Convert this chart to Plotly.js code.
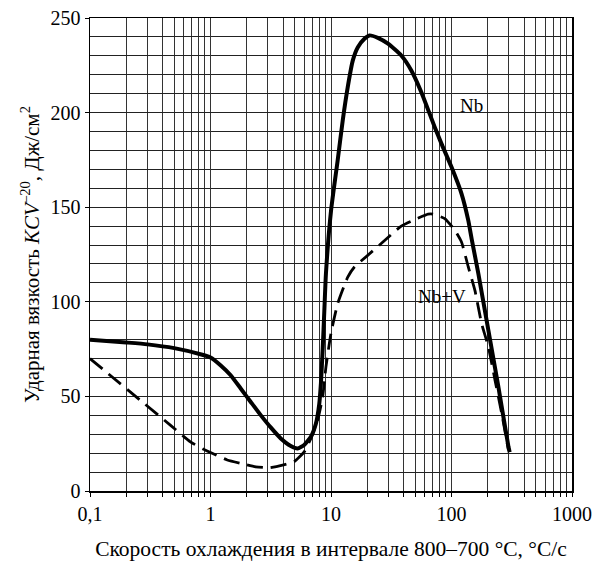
<!DOCTYPE html>
<html>
<head>
<meta charset="utf-8">
<script src="https://cdn.plot.ly/plotly-3.0.1.min.js"></script>
<style>html,body{margin:0;padding:0;background:#fff}</style>
</head>
<body>
<div id="chart" style="width:601px;height:567px"></div>
<script>
// Nb (solid)
const nbX = [0.1, 0.2, 0.3, 0.5, 0.825, 1.0, 1.21, 1.47, 1.78, 2.15, 2.61, 3.16, 3.83, 4.64, 5.28, 5.99, 6.81, 7.5, 7.99, 8.25, 8.53, 8.8, 9.08, 10, 11.37, 12.52, 13.77, 15.17, 16.7, 18.95, 20.85, 24.5, 29.7, 38.3, 46.4, 56.2, 72.6, 82.5, 100, 121, 137.8, 146.8, 166.9, 202.2, 245, 296.9, 304];
const nbY = [80, 78.5, 77.5, 75.5, 72.3, 70.6, 66.5, 61.2, 54.2, 47.2, 40.1, 33.6, 27.8, 23.8, 22.5, 24.3, 28.7, 35.7, 46, 57, 75, 95, 115, 148, 175, 196, 213.5, 227.6, 234.6, 239, 240.8, 239.5, 236.4, 230.2, 222.3, 210.8, 192.3, 183.6, 171.2, 157.2, 143, 133.4, 115, 85, 55, 23.4, 20.5];
// Nb+V (dashed)
const nbvX = [0.1, 0.464, 0.681, 0.88, 1.0, 1.377, 1.78, 2.37, 3.06, 3.96, 4.94, 5.99, 6.81, 7.75, 8.53, 9.08, 10, 11.37, 13.77, 15.64, 19.95, 26.1, 38.3, 49.5, 63.9, 70.4, 88, 106.5, 121, 137.8, 156.4, 177.8, 202.2, 229.6, 261, 296.9];
const nbvY = [70, 34.8, 26, 22, 20.3, 16.4, 14.6, 12.8, 12.3, 13.7, 15.5, 20.7, 27.8, 37.5, 49.8, 65.6, 83.4, 99.1, 113, 118.4, 124.3, 130.8, 140, 143.4, 146.3, 146.3, 144, 137.8, 131.6, 118.4, 106, 88.5, 76.2, 58.6, 41, 21.6];

const xTickVals = [0.1, 1, 10, 100, 1000];
const xTickText = ['0,1', '1', '10', '100', '1000'];
const xMinorVals = [];
[0.1, 1, 10, 100].forEach(function (d) {
  for (let m = 2; m <= 9; m++) xMinorVals.push(+(d * m).toPrecision(3));
});

const yTickVals = [0, 50, 100, 150, 200, 250];
const yTickText = ['0', '50', '100', '150', '200', '250'];

const labelNames = ['Nb', 'Nb+V'];
const labelX = [147, 84];
const labelY = [204, 103];

const font = 'Liberation Serif, Times New Roman, serif';

const traces = [
  {x: nbX, y: nbY, mode: 'lines', type: 'scatter', line: {color: '#000', width: 4, shape: 'spline', smoothing: 0.5}, hoverinfo: 'skip'},
  {x: nbvX, y: nbvY, mode: 'lines', type: 'scatter', line: {color: '#000', width: 2.8, dash: '16px,8px', shape: 'spline', smoothing: 0.5}, hoverinfo: 'skip'}
];

const layout = {
  width: 601, height: 567,
  margin: {l: 90, r: 29, t: 18, b: 76},
  paper_bgcolor: '#fff', plot_bgcolor: '#fff',
  showlegend: false,
  font: {family: font, color: '#000', size: 20},
  xaxis: {
    type: 'log', range: [-1, 3],
    tickmode: 'array', tickvals: xTickVals, ticktext: xTickText,
    ticks: 'outside', ticklen: 4, tickcolor: '#000', tickwidth: 1,
    showgrid: true, gridcolor: '#333', gridwidth: 1,
    minor: {tickmode: 'array', tickvals: xMinorVals, ticks: 'outside', ticklen: 4, tickcolor: '#000', tickwidth: 1,
      showgrid: true, gridcolor: '#333', gridwidth: 1},
    showline: true, linecolor: '#000', linewidth: 1.5, mirror: true,
    zeroline: false,
    tickfont: {family: font, size: 20, color: '#000'},
    title: {text: 'Скорость охлаждения в интервале 800–700 °C, °C/с', font: {family: font, size: 21.5, color: '#000'}, standoff: 17}
  },
  yaxis: {
    range: [0, 250],
    tickmode: 'array', tickvals: yTickVals, ticktext: yTickText,
    ticks: 'outside', ticklen: 4, tickcolor: '#000', tickwidth: 1,
    showgrid: true, gridcolor: '#222', gridwidth: 1,
    minor: {dtick: 10, tick0: 0, showgrid: true, gridcolor: '#222', gridwidth: 1, ticks: ''},
    showline: true, linecolor: '#000', linewidth: 1.5, mirror: true,
    zeroline: false,
    tickfont: {family: font, size: 20, color: '#000'},
    title: {text: 'Ударная вязкость <i>KCV</i><sup>–20</sup>, Дж/см<sup>2</sup>', font: {family: font, size: 21, color: '#000'}, standoff: 5}
  },
  annotations: labelNames.map(function (t, i) {
    return {x: Math.log10(labelX[i]), y: labelY[i], xref: 'x', yref: 'y', text: t, showarrow: false,
      font: {family: font, size: 19, color: '#000'}};
  })
};

Plotly.newPlot('chart', traces, layout, {staticPlot: true, displayModeBar: false});
</script>
</body>
</html>
